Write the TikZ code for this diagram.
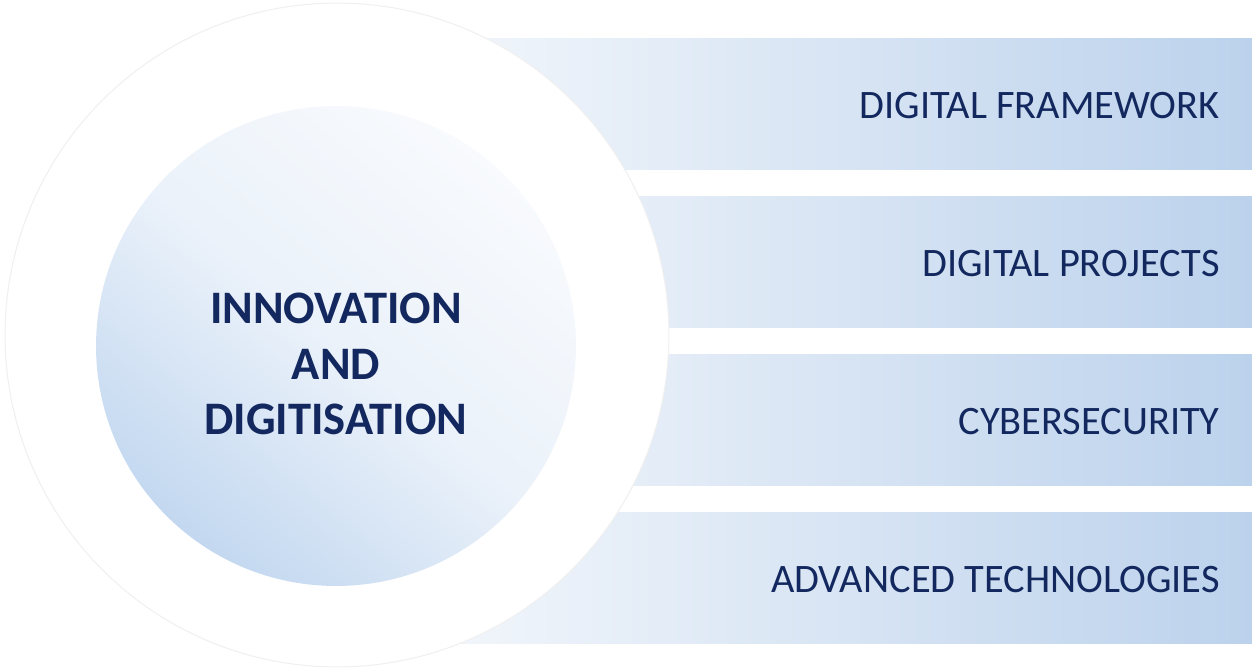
\documentclass[tikz,border=0pt]{standalone}
\usepackage{fontspec}
\setmainfont{Carlito}
\usepackage{tikz}
\usetikzlibrary{positioning}

\definecolor{ink}{HTML}{13285E}
\definecolor{barleft}{HTML}{F5F8FC}
\definecolor{barright}{HTML}{BCD2EC}
\definecolor{coreblue}{HTML}{C3D8F0}
\definecolor{corelight}{HTML}{F8FAFD}

\tikzset{
	barshade/.style={left color=barleft, right color=barright, draw=none},
	bartext/.style={anchor=east, text=ink, font=\fontsize{23}{27}\selectfont, inner sep=0pt},
	ring/.style={circle, fill=white, draw=black!6, line width=0.6pt, minimum size=13.28cm, inner sep=0pt},
	core/.style={circle, draw=none, minimum size=9.6cm, inner sep=0pt, top color=corelight, bottom color=coreblue, middle color=corelight!75!coreblue, shading angle=-40},
	title/.style={text=ink, align=center, font=\fontsize{26.5}{31.5}\selectfont\bfseries}
}

\begin{document}
\begin{tikzpicture}[x=0.02cm, y=-0.02cm]
	
	\useasboundingbox (0, 0) rectangle (1252, 667);
	
	% bars on the right
	\foreach \i/\n in {1/DIGITAL FRAMEWORK, 2/DIGITAL PROJECTS, 3/CYBERSECURITY, 4/ADVANCED TECHNOLOGIES} {
		\shade [barshade] (400, 38+158*\i-158) rectangle (1252, 169+158*\i-158);
		\node (t\i) [bartext] at (1220, 106+158*\i-158) {\n};
	}
	
	% white ring and centre circle
	\node (ring) [ring] at (337, 335) {};
	\node (core) [core] at (336, 346) {};
	
	\node (title) [title] at ([yshift=-0.36cm]core.center) {INNOVATION\\AND\\DIGITISATION};
	
\end{tikzpicture}
\end{document}
